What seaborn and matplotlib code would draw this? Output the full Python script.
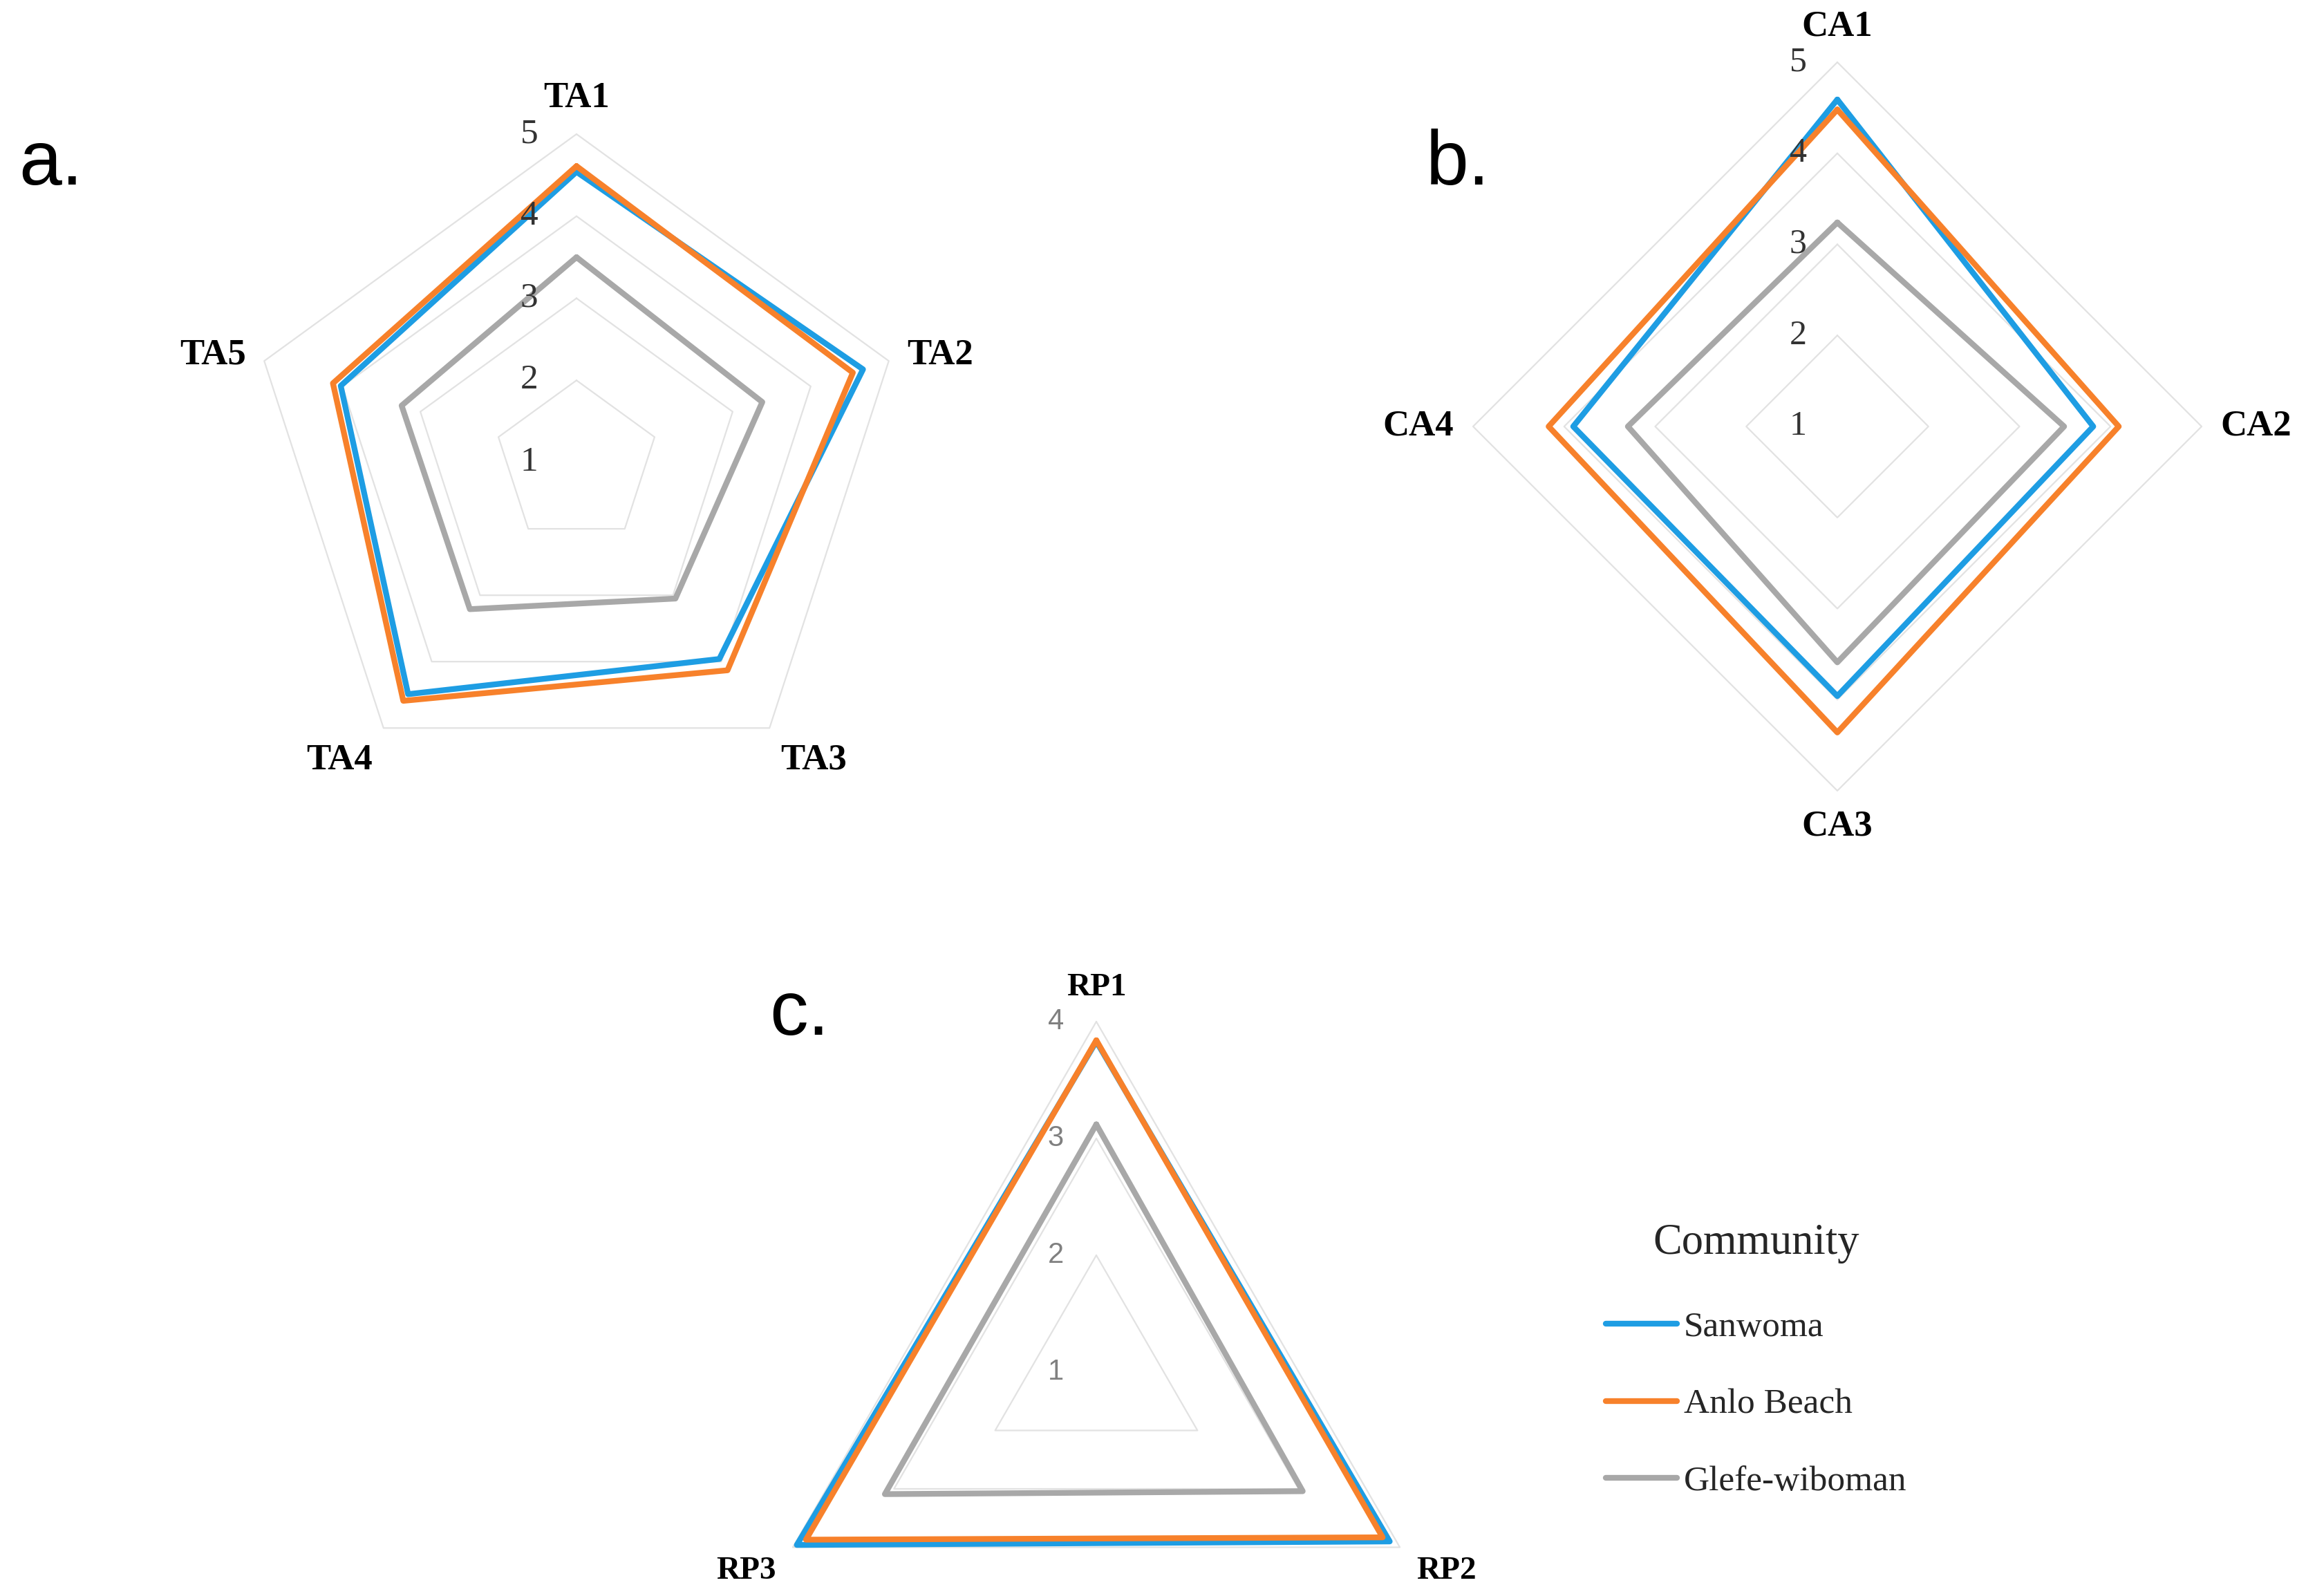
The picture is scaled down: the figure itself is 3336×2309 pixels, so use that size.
import numpy as np
import pandas as pd
import matplotlib.pyplot as plt
import seaborn as sns

# community series, same order in every panel
communities = ['Sanwoma', 'Anlo Beach', 'Glefe-wiboman']
palette = ['#1E9DE3', '#F7812B', '#A8A8A8']

# panel a
ta_labels = ['TA1', 'TA2', 'TA3', 'TA4', 'TA5']
ta_sanwoma = [4.54, 4.67, 3.96, 4.49, 4.02]
ta_anlo = [4.61, 4.54, 4.13, 4.59, 4.12]
ta_glefe = [3.50, 3.38, 3.05, 3.21, 3.24]

# panel b
ca_labels = ['CA1', 'CA2', 'CA3', 'CA4']
ca_sanwoma = [4.59, 3.81, 3.96, 3.90]
ca_anlo = [4.48, 4.09, 4.36, 4.17]
ca_glefe = [3.24, 3.49, 3.59, 3.30]

# panel c
rp_labels = ['RP1', 'RP2', 'RP3']
rp_sanwoma = [3.83, 3.90, 3.96]
rp_anlo = [3.84, 3.83, 3.87]
rp_glefe = [3.12, 3.04, 3.09]

W, H, DPI = 3336, 2309, 200

sns.set_theme(style='white')
plt.rcParams['font.family'] = ['Liberation Serif', 'DejaVu Serif']


def radar_frame(labels, series):
    n = len(labels)
    theta = np.linspace(0, 2 * np.pi, n, endpoint=False)
    rows = []
    for name, vals in zip(communities, series):
        closed_t = np.append(theta, 2 * np.pi)
        closed_v = list(vals) + [vals[0]]
        for t, v in zip(closed_t, closed_v):
            rows.append({'theta': t, 'value': v, 'Community': name})
    return pd.DataFrame(rows), theta


def add_polar(fig, cx, cy, r):
    rect = [(cx - r) / W, (H - cy - r) / H, 2 * r / W, 2 * r / H]
    ax = fig.add_axes(rect, projection='polar')
    ax.set_theta_offset(np.pi / 2)
    ax.set_theta_direction(-1)
    return ax


def draw_radar(ax, labels, series, rmax, cat_size, tick_size, tick_font,
               tick_color, tick_pad, legend=False):
    df, theta = radar_frame(labels, series)
    closed_t = np.append(theta, 2 * np.pi)

    # polygon gridlines
    for k in range(2, rmax + 1):
        ax.plot(closed_t, [k] * len(closed_t), color='#E2E2E2', lw=0.8,
                clip_on=False, zorder=1)

    sns.lineplot(data=df, x='theta', y='value', hue='Community',
                 hue_order=communities, palette=palette, sort=False,
                 estimator=None, linewidth=3.0, legend=legend, ax=ax,
                 clip_on=False, zorder=3, solid_joinstyle='round')

    ax.set_ylim(1, rmax)
    ax.grid(False)
    ax.set_xticks([])
    ax.set_yticks([])
    ax.set_xlabel('')
    ax.set_ylabel('')
    ax.spines['polar'].set_visible(False)
    ax.patch.set_visible(False)

    # ring value labels along the first axis
    for k in range(1, rmax + 1):
        ax.annotate(str(k), xy=(0, k), xytext=(-tick_pad, 0),
                    textcoords='offset points', ha='right', va='center',
                    fontsize=tick_size, color=tick_color, family=tick_font,
                    annotation_clip=False)

    # category labels outside the outer ring
    for t, lab in zip(theta, labels):
        dx, dy = np.sin(t), np.cos(t)
        ha = 'left' if dx > 0.1 else ('right' if dx < -0.1 else 'center')
        va = 'bottom' if dy > 0.45 else ('top' if dy < -0.45 else 'center')
        ax.annotate(lab, xy=(t, rmax), xytext=(10 * dx, 10 * dy),
                    textcoords='offset points', ha=ha, va=va,
                    fontsize=cat_size, fontweight='bold', color='black',
                    annotation_clip=False)


fig = plt.figure(figsize=(W / DPI, H / DPI), dpi=DPI)

ax_a = add_polar(fig, 834, 669, 475)
draw_radar(ax_a, ta_labels, [ta_sanwoma, ta_anlo, ta_glefe], 5,
           19, 18.5, ['Liberation Serif'], '#333333', 20)

ax_b = add_polar(fig, 2658, 617, 527)
draw_radar(ax_b, ca_labels, [ca_sanwoma, ca_anlo, ca_glefe], 5,
           19, 18, ['Liberation Serif'], '#333333', 16)

ax_c = add_polar(fig, 1586, 1985, 507)
draw_radar(ax_c, rp_labels, [rp_sanwoma, rp_anlo, rp_glefe], 4,
           17, 15, ['Liberation Sans'], '#808080', 17, legend=True)

handles, labs = ax_c.get_legend_handles_labels()
ax_c.get_legend().remove()
leg = fig.legend(handles, labs, title='Community', loc='upper left',
                 bbox_to_anchor=(2323 / W, 1 - 1770 / H), frameon=False,
                 fontsize=18.5, title_fontsize=22.5, handlelength=2.0,
                 handletextpad=0.2, labelspacing=1.25, borderpad=0,
                 borderaxespad=0)
leg._legend_box.sep = 25

# panel letters
for letter, x, y in [('a.', 27, 267), ('b.', 2063, 267), ('c.', 1113, 1497)]:
    fig.text(x / W, 1 - y / H, letter, fontsize=40, va='baseline',
             ha='left', family=['Liberation Sans'], color='black')

fig.savefig('out.png', dpi=DPI)
